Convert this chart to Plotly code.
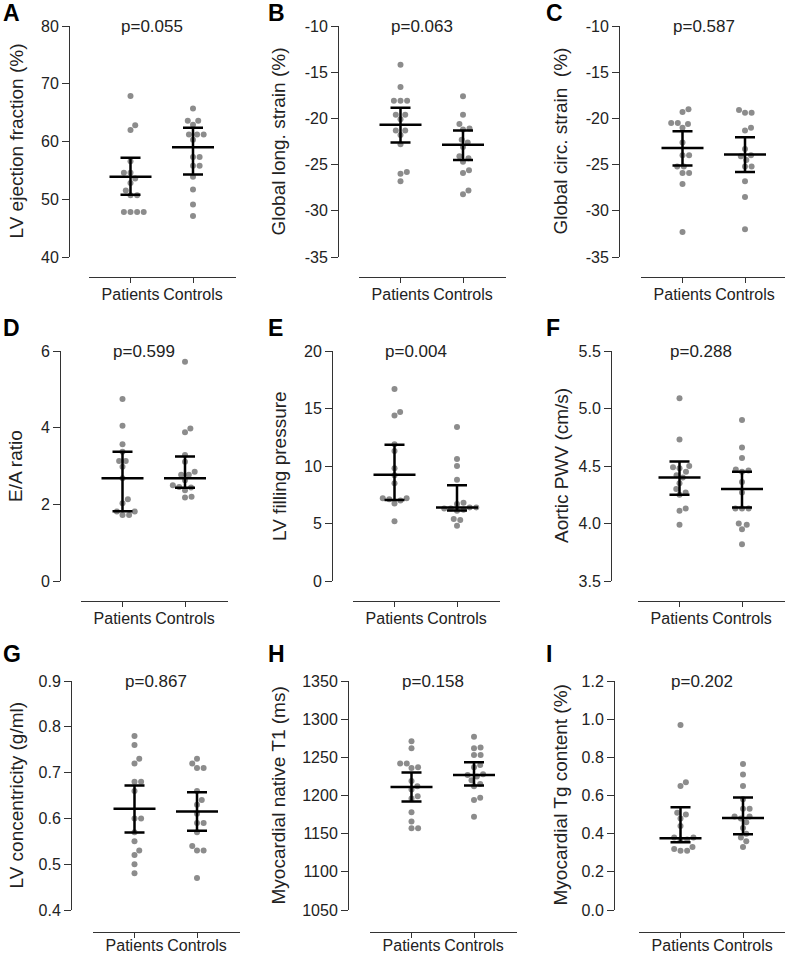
import plotly.graph_objects as go

# ---- values ----
groups = ["Patients", "Controls"]

ef_pat = [67.9, 62.8, 62.0, 56.6, 54.6, 54.6, 53.6, 52.8, 51.5, 50.7, 50.7, 47.8, 47.8, 47.8, 47.8]
ef_ctl = [65.7, 63.6, 63.6, 62.9, 61.2, 61.2, 61.2, 60.3, 57.3, 57.3, 55.8, 55.8, 53.9, 51.7, 49.1, 47.1]
ef_mid, ef_lo, ef_hi = [53.9, 59.0], [50.8, 54.3], [57.2, 62.4]

gls_pat = [-14.2, -16.6, -18.1, -18.1, -18.1, -19.6, -19.6, -20.1, -21.3, -21.3, -21.8, -22.8, -25.8, -26.0, -26.8]
gls_ctl = [-17.6, -19.6, -20.6, -21.1, -21.2, -22.3, -22.6, -23.1, -24.1, -24.3, -24.7, -25.6, -25.9, -27.8, -28.2]
gls_mid, gls_lo, gls_hi = [-20.7, -22.85], [-22.6, -24.5], [-18.85, -21.3]

gcs_pat = [-19.0, -19.3, -20.5, -20.5, -20.6, -21.0, -22.6, -24.0, -24.0, -25.2, -25.2, -25.9, -25.9, -27.1, -32.3]
gcs_ctl = [-19.1, -19.4, -19.4, -21.0, -21.3, -23.3, -24.0, -24.1, -24.5, -25.2, -25.2, -26.8, -28.5, -32.0]
gcs_mid, gcs_lo, gcs_hi = [-23.2, -23.9], [-25.1, -25.8], [-21.4, -22.05]

ea_pat = [4.75, 4.05, 3.57, 3.37, 3.13, 3.13, 2.98, 2.68, 2.13, 2.03, 1.81, 1.81, 1.72, 1.72]
ea_ctl = [5.72, 3.98, 3.88, 3.29, 3.11, 2.85, 2.77, 2.77, 2.63, 2.50, 2.45, 2.44, 2.37, 2.18, 2.20]
ea_mid, ea_lo, ea_hi = [2.68, 2.68], [1.82, 2.43], [3.37, 3.25]

fp_pat = [16.7, 14.7, 14.4, 11.9, 11.3, 9.8, 9.2, 8.5, 7.2, 7.2, 7.1, 7.0, 6.75, 5.2]
fp_ctl = [13.4, 10.6, 10.0, 8.8, 6.8, 6.7, 6.4, 6.4, 6.3, 6.3, 6.2, 6.1, 5.4, 5.3, 4.8]
fp_mid, fp_lo, fp_hi = [9.25, 6.4], [7.05, 6.12], [11.85, 8.32]

pwv_pat = [5.09, 4.73, 4.50, 4.49, 4.48, 4.45, 4.42, 4.40, 4.35, 4.30, 4.27, 4.25, 4.13, 4.11, 3.99]
pwv_ctl = [4.90, 4.66, 4.57, 4.47, 4.46, 4.45, 4.36, 4.27, 4.13, 4.13, 4.13, 4.00, 3.99, 3.95, 3.82]
pwv_mid, pwv_lo, pwv_hi = [4.40, 4.30], [4.25, 4.14], [4.54, 4.45]

conc_pat = [0.78, 0.76, 0.73, 0.72, 0.68, 0.68, 0.66, 0.60, 0.60, 0.57, 0.55, 0.53, 0.52, 0.50, 0.48]
conc_ctl = [0.73, 0.72, 0.71, 0.71, 0.66, 0.64, 0.63, 0.61, 0.59, 0.59, 0.57, 0.54, 0.53, 0.53, 0.47]
conc_mid, conc_lo, conc_hi = [0.621, 0.615], [0.569, 0.573], [0.672, 0.657]

t1_pat = [1271, 1262, 1242, 1242, 1237, 1236, 1219, 1212, 1208, 1199, 1196, 1178, 1166, 1157, 1157]
t1_ctl = [1277, 1263, 1262, 1253, 1253, 1240, 1237, 1228, 1227, 1225, 1220, 1215, 1212, 1197, 1194, 1172]
t1_mid, t1_lo, t1_hi = [1211, 1227], [1192, 1213], [1230, 1243.5]

tg_pat = [0.97, 0.67, 0.65, 0.51, 0.50, 0.48, 0.44, 0.38, 0.38, 0.37, 0.37, 0.33, 0.32, 0.31, 0.31]
tg_ctl = [0.765, 0.71, 0.65, 0.58, 0.53, 0.53, 0.49, 0.49, 0.48, 0.46, 0.43, 0.40, 0.38, 0.36, 0.33]
tg_mid, tg_lo, tg_hi = [0.376, 0.482], [0.355, 0.397], [0.539, 0.59]

p_values = ["p=0.055", "p=0.063", "p=0.587", "p=0.599", "p=0.004", "p=0.288", "p=0.867", "p=0.158", "p=0.202"]
letters = ["A", "B", "C", "D", "E", "F", "G", "H", "I"]
y_titles = ["LV ejection fraction (%)", "Global long. strain (%)", "Global circ. strain\u00a0 (%)",
            "E/A ratio", "LV filling pressure", "Aortic PWV (cm/s)",
            "LV concentricity (g/ml)", "Myocardial native T1 (ms)", "Myocardial Tg content (%)"]

ticks_ef = [40, 50, 60, 70, 80]
ticks_gls = [-35, -30, -25, -20, -15, -10]
ticks_gcs = [-35, -30, -25, -20, -15, -10]
ticks_ea = [0, 2, 4, 6]
ticks_fp = [0, 5, 10, 15, 20]
ticks_pwv = [3.5, 4.0, 4.5, 5.0, 5.5]
ticks_conc = [0.4, 0.5, 0.6, 0.7, 0.8, 0.9]
ticks_t1 = [1050, 1100, 1150, 1200, 1250, 1300, 1350]
ticks_tg = [0.0, 0.2, 0.4, 0.6, 0.8, 1.0, 1.2]

panels = [
    (ef_pat, ef_ctl, ef_mid, ef_lo, ef_hi, ticks_ef, "{:.0f}"),
    (gls_pat, gls_ctl, gls_mid, gls_lo, gls_hi, ticks_gls, "{:.0f}"),
    (gcs_pat, gcs_ctl, gcs_mid, gcs_lo, gcs_hi, ticks_gcs, "{:.0f}"),
    (ea_pat, ea_ctl, ea_mid, ea_lo, ea_hi, ticks_ea, "{:.0f}"),
    (fp_pat, fp_ctl, fp_mid, fp_lo, fp_hi, ticks_fp, "{:.0f}"),
    (pwv_pat, pwv_ctl, pwv_mid, pwv_lo, pwv_hi, ticks_pwv, "{:.1f}"),
    (conc_pat, conc_ctl, conc_mid, conc_lo, conc_hi, ticks_conc, "{:.1f}"),
    (t1_pat, t1_ctl, t1_mid, t1_lo, t1_hi, ticks_t1, "{:.0f}"),
    (tg_pat, tg_ctl, tg_mid, tg_lo, tg_hi, ticks_tg, "{:.1f}"),
]

# ---- layout (pixels of the 786x955 page) ----
W, H = 786, 955
row_top = [26, 351, 681]
row_bot = [257, 581, 910]
row_xline = [277, 601, 932]
row_label_shift = [-2, -2, -6]
yline_x = [69, 338, 619, 60, 332, 611, 71, 348, 614]
xaxis_x0 = [89, 359, 641, 81, 353, 638, 93, 370, 639]
title_x = [16, 278, 560, 15, 279, 561, 16, 278, 560]
letter_x = [1, 266, 544]
letter_y = [13, 328, 654]
XPX = 62.5      # px between the two groups
CAT0 = 41.5     # px from start of x axis line to first group
XLEN = 147
DOT = 6.6

FONT = "Liberation Sans, Arial, Helvetica, sans-serif"
DOT_COLOR = "#8c8c8c"
INK = "#222222"
AXIS = "#333333"


def px(x):
    return x / W


def py(y):
    return 1 - y / H


def swarm(vals, px_per_unit):
    # simple beeswarm: each dot takes the nearest free horizontal slot
    order = sorted(range(len(vals)), key=lambda i: vals[i])
    placed = []
    offs = [0.0] * len(vals)
    for i in order:
        y = vals[i] * px_per_unit
        bad = []
        for yy, xx in placed:
            dy = abs(y - yy)
            if dy < DOT:
                w = (DOT * DOT - dy * dy) ** 0.5
                bad.append((xx - w, xx + w))
        cands = [0.0] + [a for a, b in bad] + [b for a, b in bad]
        cands.sort(key=lambda c: (round(abs(c), 6), -c))
        x = 0.0
        for c in cands:
            if all(not (a + 1e-6 < c < b - 1e-6) for a, b in bad):
                x = c
                break
        placed.append((y, x))
        offs[i] = x
    return [o / XPX for o in offs]


fig = go.Figure()
annotations = []

for k, (pat, ctl, mid, lo, hi, tv, fmt) in enumerate(panels):
    r, c = divmod(k, 3)
    n = k + 1
    xa = "x" if n == 1 else "x%d" % n
    ya = "y" if n == 1 else "y%d" % n
    ymin, ymax = tv[0], tv[-1]
    ppu = (row_bot[r] - row_top[r]) / (ymax - ymin)

    for gi, vals in enumerate([pat, ctl]):
        offs = swarm(vals, ppu)
        fig.add_trace(go.Scatter(
            x=[gi + o for o in offs], y=vals, xaxis=xa, yaxis=ya,
            mode="markers", showlegend=False, hoverinfo="y",
            marker=dict(size=6, color=DOT_COLOR, line=dict(width=0)),
        ))

    fig.add_trace(go.Scatter(
        x=[0, 1], y=mid, xaxis=xa, yaxis=ya, mode="markers", showlegend=False,
        marker=dict(symbol="line-ew", size=30, line=dict(width=2.5, color="black")),
        error_y=dict(type="data", symmetric=False,
                     array=[h - m for h, m in zip(hi, mid)],
                     arrayminus=[m - l for m, l in zip(mid, lo)],
                     thickness=2.5, width=10, color="black"),
    ))

    x0 = xaxis_x0[k]
    x1 = min(x0 + XLEN, W - 1)
    xr0 = -CAT0 / XPX
    xr1 = xr0 + (x1 - x0) / XPX

    fig.layout["xaxis" if n == 1 else "xaxis%d" % n] = dict(
        domain=[px(x0), px(x1)], anchor="free", position=py(row_xline[r]),
        range=[xr0, xr1], tickvals=[0, 1], ticktext=groups, automargin=False,
        showline=True, linecolor=AXIS, linewidth=1, ticks="outside", ticklen=5,
        tickcolor=AXIS, tickwidth=1, showgrid=False, zeroline=False,
        ticklabelstandoff=row_label_shift[r],
        tickfont=dict(size=16, color=INK, family=FONT), fixedrange=True,
    )
    fig.layout["yaxis" if n == 1 else "yaxis%d" % n] = dict(
        domain=[py(row_bot[r]), py(row_top[r])], anchor="free", position=px(yline_x[k]),
        range=[ymin, ymax], tickvals=tv, ticktext=[fmt.format(t) for t in tv], automargin=False,
        showline=True, linecolor=AXIS, linewidth=1, ticks="outside", ticklen=7,
        tickcolor=AXIS, tickwidth=1, showgrid=False, zeroline=False,
        tickfont=dict(size=16, color=INK, family=FONT), fixedrange=True,
    )

    annotations.append(dict(
        x=0.5 - 10 / XPX, y=ymax, xref=xa, yref=ya, text=p_values[k],
        showarrow=False, xanchor="center", yanchor="middle",
        font=dict(size=17, color=INK, family=FONT),
    ))
    annotations.append(dict(
        x=px(title_x[k]), y=py((row_top[r] + row_bot[r]) / 2), xref="paper", yref="paper",
        text=y_titles[k], textangle=-90, showarrow=False,
        xanchor="center", yanchor="middle",
        font=dict(size=19, color=INK, family=FONT),
    ))
    annotations.append(dict(
        x=px(letter_x[c]), y=py(letter_y[r]), xref="paper", yref="paper",
        text="<b>%s</b>" % letters[k], showarrow=False,
        xanchor="left", yanchor="middle",
        font=dict(size=23, color="black", family=FONT),
    ))

fig.update_layout(
    width=W, height=H,
    margin=dict(l=0, r=0, t=0, b=0, autoexpand=False),
    paper_bgcolor="white", plot_bgcolor="white",
    annotations=annotations,
    showlegend=False,
)

# the page's default body margin would push the figure 8px off the window
fig.write_html("out.html", config={"displayModeBar": False},
               post_script="document.body.style.margin='0px';")
